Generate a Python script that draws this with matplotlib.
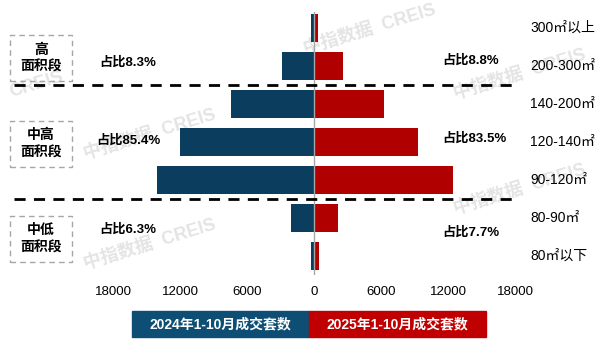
import matplotlib.pyplot as plt
from matplotlib.patches import Rectangle
from matplotlib.lines import Line2D
from matplotlib import transforms

plt.rcParams['font.family'] = ['Liberation Sans', 'Noto Sans CJK SC', 'DejaVu Sans']

# -- data
areas = ['80㎡以下', '80-90㎡', '90-120㎡', '120-140㎡', '140-200㎡', '200-300㎡', '300㎡以上']
sales_2024 = [300, 2090, 14050, 11970, 7430, 2900, 300]
sales_2025 = [470, 2150, 12440, 9310, 6270, 2620, 350]
groups = ['中低\n面积段', '中高\n面积段', '高\n面积段']
share_2024 = ['占比6.3%', '占比85.4%', '占比8.3%']
share_2025 = ['占比7.7%', '占比83.5%', '占比8.8%']
ticks = [-18000, -12000, -6000, 0, 6000, 12000, 18000]
legend_labels = ['2024年1-10月成交套数', '2025年1-10月成交套数']

blue = '#0B3D5E'
red = '#B00000'

W, H = 612, 352
fig = plt.figure(figsize=(W / 100, H / 100), dpi=100)
ax = fig.add_axes([113 / W, 1 - 275 / H, 402 / W, 263 / H])
ax.set_zorder(2)
ax.patch.set_alpha(0)

rows = range(len(areas))
ax.barh(rows, [-v for v in sales_2024], height=0.74, color=blue, zorder=3)
ax.barh(rows, sales_2025, height=0.74, color=red, zorder=3)
ax.axvline(0, color='#A6A6A6', lw=1, zorder=4)

ax.set_xlim(-18000, 18000)
ax.set_ylim(-0.5, 6.42)
ax.set_xticks(ticks)
ax.set_xticklabels([str(abs(t)) for t in ticks], fontsize=9.5)
ax.tick_params(axis='x', length=0, pad=8)
ax.set_yticks([])
for s in ax.spines.values():
    s.set_visible(False)

# x in figure pixels, y in data rows
tr = transforms.blended_transform_factory(
    transforms.Affine2D().scale(1 / W, 1) + fig.transFigure, ax.transData)
trf = transforms.Affine2D().scale(1 / W, 1 / H) + fig.transFigure

# watermarks (behind everything)
for (wx, wy) in [(150, 135), (150, 245), (520, 75), (520, 190), (370, 30)]:
    fig.text(wx / W, 1 - wy / H, '中指数据  CREIS', fontsize=13, fontweight='bold',
             color='#E4E4E4', rotation=17, ha='center', va='center', zorder=0)
fig.text(36 / W, 1 - 85 / H, 'CREIS', fontsize=13, fontweight='bold',
         color='#E4E4E4', rotation=17, ha='center', va='center', zorder=0)

# category labels
for i, a in enumerate(areas):
    ax.text(530, i, a, transform=tr, fontsize=10, va='center', ha='left', clip_on=False)

# group separators
for yy in [1.5, 4.5]:
    ax.add_line(Line2D([14, 513], [yy, yy], transform=tr, color='black', lw=2,
                       dashes=(4, 3), clip_on=False, zorder=5))

# group boxes and share texts
group_y = [0.45, 2.95, 5.2]
text_y_left = [0.7, 3.05, 5.1]
text_y_right = [0.62, 3.1, 5.15]
for g, gy, ly, ry, l, r in zip(groups, group_y, text_y_left, text_y_right, share_2024, share_2025):
    yc = ax.transData.transform((0, gy))[1]
    ax.add_patch(Rectangle((10, yc - 23), 62, 46, transform=transforms.IdentityTransform(),
                           fill=False, ec='#A6A6A6', lw=1, ls=(0, (4, 3)), clip_on=False))
    ax.text(41, gy, g, transform=tr, ha='center', va='center', fontsize=10,
            fontweight='bold', linespacing=1.3, clip_on=False)
    ax.text(128, ly, l, transform=tr, ha='center', va='center', fontsize=9.5,
            fontweight='bold', clip_on=False)
    ax.text(442, ry, r, transform=tr, ha='left', va='center', fontsize=9.5,
            fontweight='bold', clip_on=False)

# legend blocks
for x0, x1, c, lab in [(132, 309, '#0E4E74', legend_labels[0]),
                        (309, 486, '#C00000', legend_labels[1])]:
    fig.add_artist(Rectangle((x0, H - 337), x1 - x0, 26, transform=trf, color=c, zorder=3))
    fig.text((x0 + x1) / 2 / W, 1 - 324 / H, lab, color='white', fontsize=10,
             fontweight='bold', ha='center', va='center', zorder=4)

fig.savefig('out.png', dpi=100)
